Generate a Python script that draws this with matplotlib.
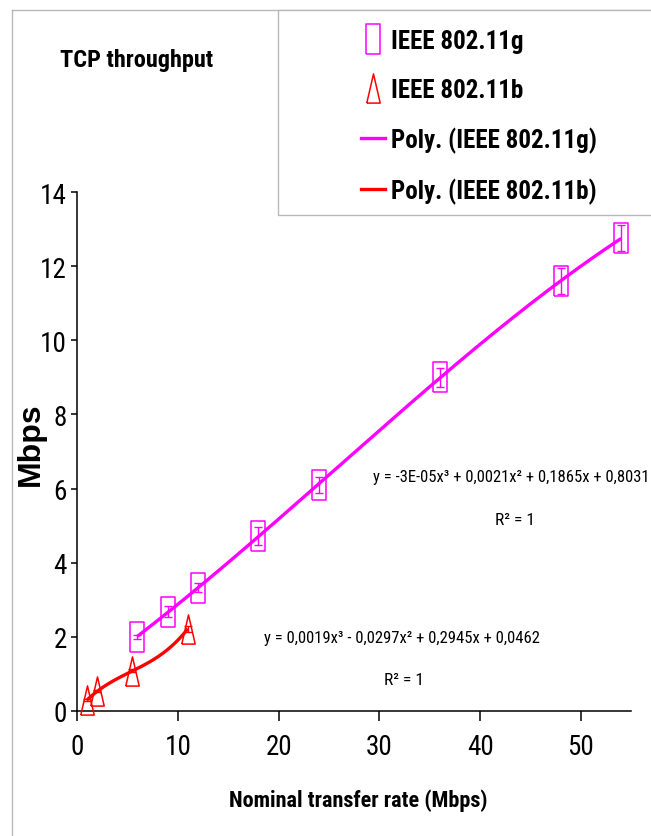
import numpy as np
import matplotlib
matplotlib.use("Agg")
import matplotlib.pyplot as plt
from matplotlib import font_manager as fm
from matplotlib.font_manager import FontProperties
from matplotlib.lines import Line2D
from matplotlib.patches import Rectangle

# ---------------- data ----------------
g_rate = [6, 9, 12, 18, 24, 36, 48, 54]
g_tput = [2.0, 2.68, 3.32, 4.72, 6.1, 9.0, 11.6, 12.75]
g_err = [0.05, 0.15, 0.12, 0.25, 0.22, 0.25, 0.35, 0.35]

b_rate = [1, 2, 5.5, 11]
b_tput = [0.3, 0.53, 1.08, 2.22]
b_err = [0.03, 0.03, 0.04, 0.08]

x_ticks = [0, 10, 20, 30, 40, 50]
y_ticks = [0, 2, 4, 6, 8, 10, 12, 14]

labels = ["IEEE 802.11g", "IEEE 802.11b", "Poly. (IEEE 802.11g)", "Poly. (IEEE 802.11b)"]
eq_g = "y = -3E-05x³ + 0,0021x² + 0,1865x + 0,8031"
eq_b = "y = 0,0019x³ - 0,0297x² + 0,2945x + 0,0462"
r2 = "R² = 1"

# ---------------- fonts ----------------
def wnum(w):
    if isinstance(w, str):
        return fm.weight_dict.get(w, 400)
    return int(w)

def pick_condensed(bold):
    want = 700 if bold else 400
    prefs = ["Liberation Sans Narrow", "Arial Narrow", "Noto Sans", "Roboto Condensed", "Roboto",
             "Open Sans Condensed", "Open Sans", "DejaVu Sans"]
    ents = [f for f in fm.fontManager.ttflist
            if f.style == "normal" and (f.stretch == "condensed" or "Narrow" in f.name or "Condensed" in f.name)
            and "Extra" not in f.fname and "Semi" not in f.fname and "Ultra" not in f.fname]
    for p in prefs:
        c = [f for f in ents if f.name == p]
        if c:
            f = min(c, key=lambda f: abs(wnum(f.weight) - want))
            return FontProperties(fname=f.fname)
    return None

fp_reg = pick_condensed(False)
fp_bold = pick_condensed(True)
if fp_reg is None or fp_bold is None:
    fp_reg = FontProperties(family="Liberation Sans")
    fp_bold = FontProperties(family="Liberation Sans", weight="bold")
    SC = 0.84
else:
    SC = 1.0

def fprop(base, size):
    p = base.copy()
    p.set_size(size * SC)
    return p

W, H = 651, 837
def fx(px):
    return px / W
def fy(py):
    return 1 - py / H

MAG = "#FF00FF"
RED = "#FF0000"
GRAY = "#b8b8b8"

rect_marker = [(-0.45, -1), (0.45, -1), (0.45, 1), (-0.45, 1), (-0.45, -1)]
tri_marker = [(-0.46, -1), (0.46, -1), (0, 1), (-0.46, -1)]

fig = plt.figure(figsize=(W / 100, H / 100), dpi=100)
fig.patch.set_facecolor("white")

x0, x55 = 77, 77 + 55 * 10.08
ax = fig.add_axes([fx(x0), fy(712), (x55 - x0) / W, (712 - 193) / H])
ax.set_xlim(0, 55)
ax.set_ylim(0, 14)
for s in ["top", "right"]:
    ax.spines[s].set_visible(False)
for s in ["left", "bottom"]:
    ax.spines[s].set_linewidth(1.1)
    ax.spines[s].set_color("black")
ax.set_xticks(x_ticks)
ax.set_yticks(y_ticks)
ax.tick_params(axis="x", direction="out", length=7.5, width=1.1, pad=8)
ax.tick_params(axis="y", direction="out", length=4.5, width=1.1, pad=3)
for lab in ax.get_xticklabels() + ax.get_yticklabels():
    lab.set_fontproperties(fprop(fp_reg, 19.5))
ax.patch.set_alpha(0)

# trend lines (cubic fits)
cg = np.polyfit(g_rate, g_tput, 3)
xs = np.linspace(min(g_rate), max(g_rate), 300)
ax.plot(xs, np.polyval(cg, xs), color=MAG, lw=2.4, zorder=3, solid_capstyle="butt")
cb = np.polyfit(b_rate, b_tput, 3)
xb = np.linspace(min(b_rate), max(b_rate), 200)
ax.plot(xb, np.polyval(cb, xb), color=RED, lw=2.4, zorder=3, solid_capstyle="butt")

# markers with error bars
ax.errorbar(g_rate, g_tput, yerr=g_err, fmt="none", ecolor=MAG, elinewidth=1, capsize=2.8, capthick=1, zorder=4)
ax.plot(g_rate, g_tput, ls="none", marker=rect_marker, ms=21, mfc="none", mec=MAG, mew=1.1, zorder=5, clip_on=False)
ax.errorbar(b_rate, b_tput, yerr=b_err, fmt="none", ecolor=RED, elinewidth=1, capsize=2.8, capthick=1, zorder=4)
ax.plot(b_rate, b_tput, ls="none", marker=tri_marker, ms=21, mfc="none", mec=RED, mew=1.1, zorder=5, clip_on=False)

# equations
fig.text(fx(511), fy(478), eq_g, ha="center", va="center", fontproperties=fprop(fp_reg, 12))
fig.text(fx(515), fy(521), r2, ha="center", va="center", fontproperties=fprop(fp_reg, 12.5))
fig.text(fx(402), fy(638), eq_b, ha="center", va="center", fontproperties=fprop(fp_reg, 12))
fig.text(fx(404), fy(681), r2, ha="center", va="center", fontproperties=fprop(fp_reg, 12.5))

# titles
fig.text(fx(60), fy(60), "TCP throughput", ha="left", va="center", fontproperties=fprop(fp_bold, 17.5))
fig.text(fx(358), fy(801), "Nominal transfer rate (Mbps)", ha="center", va="center", fontproperties=fprop(fp_bold, 16))
fig.text(fx(31), fy(444), "Mbps", ha="center", va="center", rotation=90,
         fontproperties=FontProperties(family="Liberation Sans", weight="bold", size=23))

# chart area border
fig.add_artist(Line2D([fx(12), fx(12)], [fy(11), 0], transform=fig.transFigure, color=GRAY, lw=1))
fig.add_artist(Line2D([fx(12), 1], [fy(11), fy(11)], transform=fig.transFigure, color=GRAY, lw=1))

# legend box
fig.add_artist(Rectangle((fx(278), fy(216)), fx(720) - fx(278), fy(11) - fy(216), transform=fig.transFigure,
                         ec=GRAY, fc="white", lw=1, zorder=6))
handles = [
    Line2D([], [], ls="none", marker=rect_marker, ms=21, mfc="none", mec=MAG, mew=1.1),
    Line2D([], [], ls="none", marker=tri_marker, ms=21, mfc="none", mec=RED, mew=1.1),
    Line2D([], [], color=MAG, lw=2.4),
    Line2D([], [], color=RED, lw=2.4),
]
leg = fig.legend(handles, labels, loc="upper left", bbox_to_anchor=(fx(361), fy(30)), frameon=False,
                 borderpad=0, borderaxespad=0, handlelength=0.95, handletextpad=0.25, labelspacing=0.99,
                 prop=fprop(fp_bold, 18))
leg.set_zorder(7)

fig.savefig("out.png", dpi=100, facecolor="white")
